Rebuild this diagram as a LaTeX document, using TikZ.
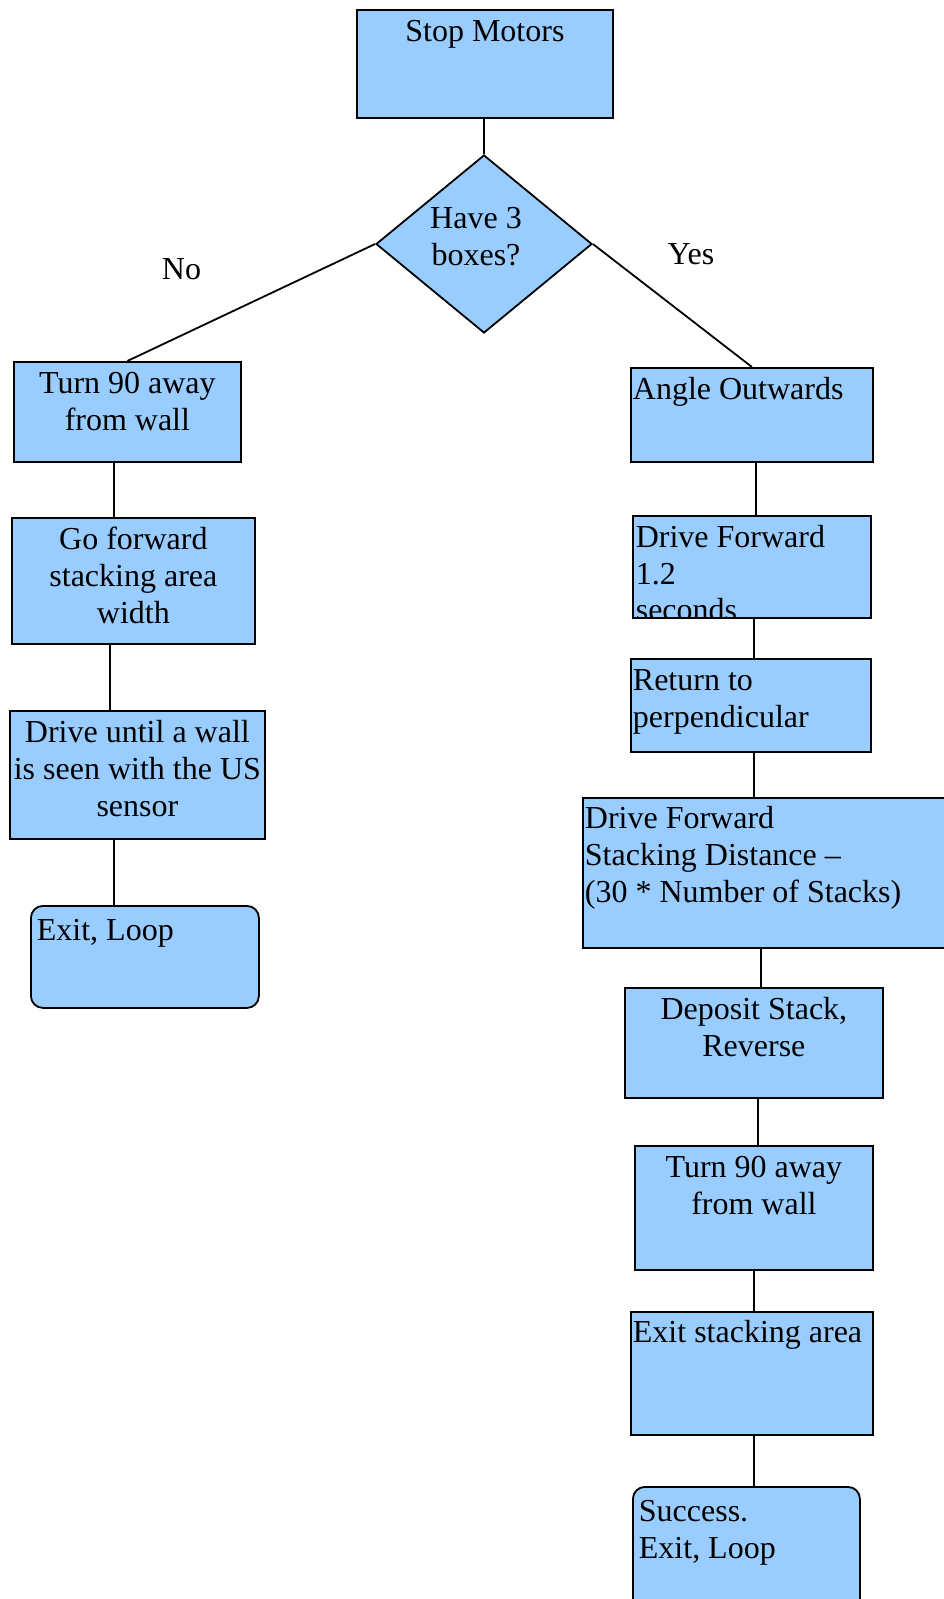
\documentclass[tikz,border=0pt]{standalone}
\usepackage{fontspec}
\setmainfont{Liberation Serif}
\usetikzlibrary{shapes.geometric}
\definecolor{boxblue}{HTML}{99CCFF}
% box text: width, height, gap above first line, alignment, lines
\newcommand{\flowtext}[5]{\parbox[t][#2][t]{#1}{\vspace*{#3}#4\strut #5}}

\begin{document}
\begin{tikzpicture}[x=0.5pt,y=-0.5pt,
    every node/.style={font=\fontsize{16pt}{18.4pt}\selectfont},
    stepbox/.style={draw, line width=0.9pt, fill=boxblue, inner sep=0pt, anchor=north west},
    endbox/.style={stepbox, rounded corners=6pt},
    link/.style={line width=0.9pt}]
      \useasboundingbox (0,0) rectangle (943,1599);
      % top
      \node[stepbox] (stop) at (356,9) {\flowtext{128pt}{54pt}{2.9pt}{\centering}{Stop Motors}};
      \node[draw, line width=0.9pt, fill=boxblue, shape=diamond, inner sep=0pt,
            minimum width=108pt, minimum height=89pt,
            label={[name=dialbl, xshift=-4pt, yshift=3.5pt, align=center]center:Have 3\\boxes?}] (dia) at (484,244) {};
      \node (no) at (181.5,269) {No};
      \node (yes) at (691,254) {Yes};
      % no branch
      \node[stepbox] (turnL) at (13,361) {\flowtext{113.5pt}{50pt}{2.9pt}{\centering}{Turn 90 away\\from wall}};
      \node[stepbox] (go) at (11,517) {\flowtext{121.5pt}{63pt}{2.9pt}{\centering}{Go forward\\stacking area\\width}};
      \node[stepbox] (drive) at (9,710) {\flowtext{127.5pt}{64pt}{2.9pt}{\centering}{Drive until a wall\\is seen with the US\\sensor}};
      \node[endbox] (exitL) at (30,905) {\flowtext{114pt}{51pt}{4.5pt}{\raggedright\leftskip=3pt}{Exit, Loop}};
      % yes branch
      \node[stepbox] (angle) at (630,367) {\flowtext{121pt}{47pt}{2.9pt}{\raggedright\leftskip=1pt}{Angle Outwards}};
      \node[stepbox, minimum width=119pt, minimum height=51pt,
            path picture={\node[anchor=north west, inner sep=0pt] (dfwdtxt) at (path picture bounding box.north west)
              {\flowtext{119pt}{51pt}{2.4pt}{\raggedright\leftskip=1pt}{Drive Forward\\1.2\\seconds}};}] (dfwd) at (632,515) {};
      \node[stepbox] (ret) at (630,658) {\flowtext{120pt}{46.5pt}{2.9pt}{\raggedright\leftskip=1pt}{Return to\\perpendicular}};
      \node[stepbox] (dstack) at (582,797) {\flowtext{190pt}{75pt}{2.4pt}{\raggedright\leftskip=1pt}{Drive Forward\\Stacking Distance --\\(30 * Number of Stacks)}};
      \node[stepbox] (deposit) at (624,987) {\flowtext{129pt}{55pt}{2.9pt}{\centering}{Deposit Stack,\\Reverse}};
      \node[stepbox] (turnR) at (634,1145) {\flowtext{119pt}{62pt}{2.9pt}{\centering}{Turn 90 away\\from wall}};
      \node[stepbox] (exitS) at (630,1311) {\flowtext{121pt}{61.5pt}{2.4pt}{\raggedright\leftskip=1pt}{Exit stacking area}};
      \node[endbox] (success) at (632,1486) {\flowtext{113.5pt}{65pt}{4.5pt}{\raggedright\leftskip=3pt}{Success.\\Exit, Loop}};
      % connectors
      \draw[link] (dia.north |- stop.south) -- (dia.north);
      \draw[link] (dia.west) -- (turnL.north);
      \draw[link] (dia.east) -- (angle.north);
      \draw[link] ([xshift=-6.75pt]turnL.south) -- ([xshift=-6.75pt]turnL.south |- go.north);
      \draw[link] ([xshift=-11.75pt]go.south) -- ([xshift=-11.75pt]go.south |- drive.north);
      \draw[link] ([xshift=-11.75pt]drive.south) -- ([xshift=-11.75pt]drive.south |- exitL.north);
      \draw[link] ([xshift=2pt]angle.south) -- ([xshift=2pt]angle.south |- dfwd.north);
      \draw[link] ([xshift=1pt]dfwd.south) -- ([xshift=1pt]dfwd.south |- ret.north);
      \draw[link] ([xshift=1.5pt]ret.south) -- ([xshift=1.5pt]ret.south |- dstack.north);
      \draw[link] ([xshift=-6pt]dstack.south) -- ([xshift=-6pt]dstack.south |- deposit.north);
      \draw[link] ([xshift=2pt]deposit.south) -- ([xshift=2pt]deposit.south |- turnR.north);
      \draw[link] (turnR.south) -- (turnR.south |- exitS.north);
      \draw[link] ([xshift=1pt]exitS.south) -- ([xshift=1pt]exitS.south |- success.north);
\end{tikzpicture}
\end{document}
